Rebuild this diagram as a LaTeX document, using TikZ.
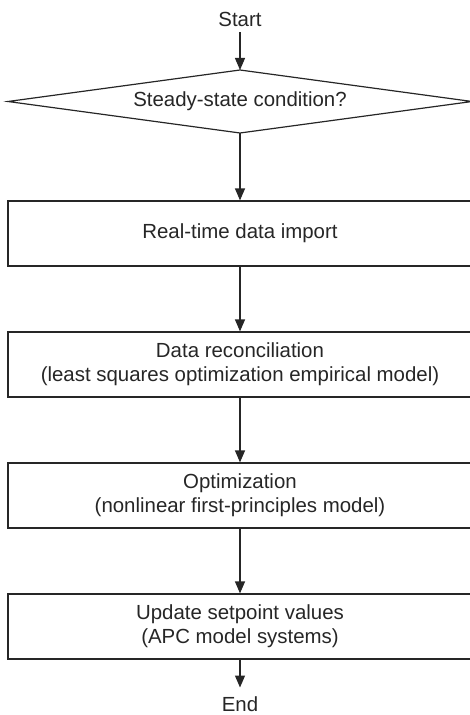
\documentclass[tikz,border=0pt]{standalone}
\usepackage{fontspec}
\setmainfont{Liberation Sans}
\usetikzlibrary{arrows.meta}
\begin{document}
\begin{tikzpicture}[x=1bp,y=-1bp,
  line/.style={line width=1.2bp, draw=black!85},
  arr/.style={line, -{Triangle[width=10bp,length=12bp]}},
  stepbox/.style={line, rectangle, minimum width=464bp, minimum height=65bp,
                  inner sep=0pt, align=center},
  every node/.style={font=\fontsize{20.5}{24}\selectfont, text=black!85}]
\useasboundingbox (0,0) rectangle (470,715);
\clip (0,0) rectangle (470,715);

% terminals
\node[anchor=base, inner sep=5bp] (start) at (240,27) {Start};
\node[anchor=base, inner sep=9bp] (end) at (240,711.5) {End};

% decision
\node[inner sep=0pt] (dec) at (240,101.5) {Steady-state condition?};
\coordinate (dtop) at (240,70);
\coordinate (dbot) at (240,133);
\coordinate (dleft) at (8,101.5);
\coordinate (dright) at (472,101.5);
\draw[line] (dtop) -- (dright) -- (dbot) -- (dleft) -- cycle;

% process steps
\node[stepbox] (b1) at (240,233.5) {Real-time data import};
\node[stepbox] (b2) at (240,364.5) {Data reconciliation\\(least squares optimization empirical model)};
\node[stepbox] (b3) at (240,495.5) {Optimization\\(nonlinear first-principles model)};
\node[stepbox] (b4) at (240,626.5) {Update setpoint values\\(APC model systems)};

% flow
\draw[arr] (start.south) -- (dtop);
\draw[arr] (dbot) -- (b1.north);
\draw[arr] (b1.south) -- (b2.north);
\draw[arr] (b2.south) -- (b3.north);
\draw[arr] (b3.south) -- (b4.north);
\draw[arr] (b4.south) -- (end.north);
\end{tikzpicture}
\end{document}
